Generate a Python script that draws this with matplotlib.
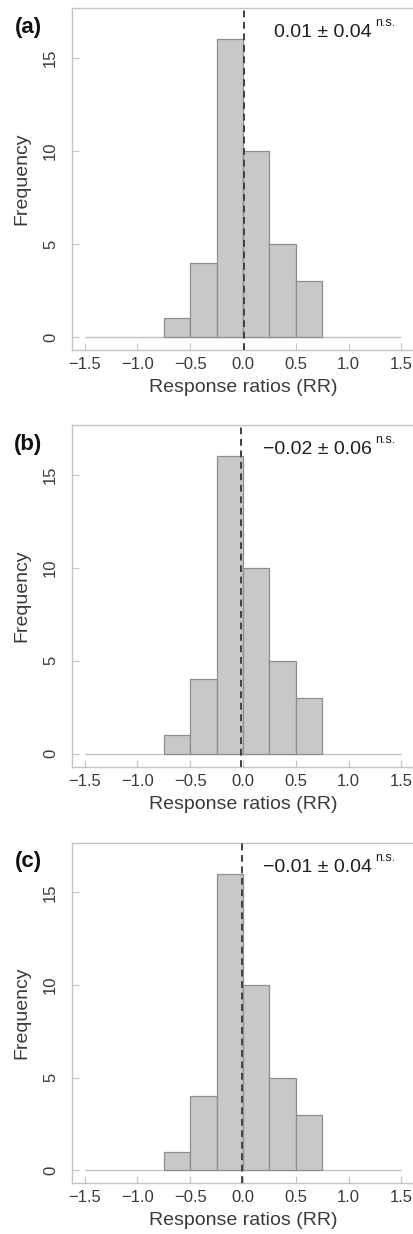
import matplotlib
matplotlib.use('Agg')
from matplotlib import pyplot as plt
import numpy as np

# histogram data (bins of 0.25 from -1.5 to 1.5)
bin_edges = [-1.5, -1.25, -1.0, -0.75, -0.5, -0.25, 0.0, 0.25, 0.5, 0.75, 1.0, 1.25, 1.5]
counts_a = [0, 0, 0, 1, 4, 16, 10, 5, 3, 0, 0, 0]
counts_b = [0, 0, 0, 1, 4, 16, 10, 5, 3, 0, 0, 0]
counts_c = [0, 0, 0, 1, 4, 16, 10, 5, 3, 0, 0, 0]

panel_labels = ["(a)", "(b)", "(c)"]
means = [0.01, -0.02, -0.01]
mean_texts = ["0.01 \u00b1 0.04", "\u22120.02 \u00b1 0.06", "\u22120.01 \u00b1 0.04"]
signif = ["n.s.", "n.s.", "n.s."]

xticks = [-1.5, -1.0, -0.5, 0.0, 0.5, 1.0, 1.5]
xticklabels = ["\u22121.5", "\u22121.0", "\u22120.5", "0.0", "0.5", "1.0", "1.5"]
yticks = [0, 5, 10, 15]

plt.rcParams['font.family'] = ['Liberation Sans', 'DejaVu Sans']

W, H = 414, 1234
fig = plt.figure(figsize=(W / 100, H / 100), dpi=100)

# axes boxes in pixels (left, top, right, bottom)
boxes = [(72, 8, 414, 350), (72, 425, 414, 766.7), (72, 842.7, 414, 1183.3)]

spine_col = "#c4c4c4"
text_col = "#3a3a3a"

for i, counts in enumerate([counts_a, counts_b, counts_c]):
    l, t, r, b = boxes[i]
    ax = fig.add_axes([l / W, 1 - b / H, (r - l) / W, (b - t) / H])

    edges = np.array(bin_edges)
    widths = np.diff(edges)
    # zero line like R hist
    ax.hlines(0, edges[0], edges[-1], color="#c0c0c0", lw=1, zorder=1)
    cnt = np.array(counts)
    nz = cnt > 0
    ax.bar(edges[:-1][nz], cnt[nz], width=widths[nz], align='edge',
           color="#c8c8c8", edgecolor="#8e8e8e", lw=0.9, zorder=2)

    # mean line
    ax.axvline(means[i], color="#404040", lw=1.4, ls=(0, (3.5, 2.4)), zorder=3)

    ax.set_xlim(-1.62, 1.62)
    ax.set_ylim(-0.7, 17.68)
    ax.set_xticks(xticks)
    ax.set_xticklabels(xticklabels)
    ax.set_yticks(yticks)
    ax.set_yticklabels([str(v) for v in yticks], rotation=90, va='center')
    ax.tick_params(direction='in', length=5, width=0.8, color=spine_col,
                   labelcolor=text_col, labelsize=12)
    ax.tick_params(axis='x', pad=5)
    ax.tick_params(axis='y', pad=10)
    for s in ax.spines.values():
        s.set_color(spine_col)
        s.set_linewidth(1)

    ax.set_xlabel("Response ratios (RR)", fontsize=14, color=text_col)
    ax.xaxis.set_label_coords(0.5, -29 / (b - t))
    ax.set_ylabel("Frequency", fontsize=14, color=text_col)
    ax.yaxis.set_label_coords(-42 / (r - l), 0.5)

    # mean +- se with superscript
    ax.text(0.877, 1 - 29 / (b - t), mean_texts[i], transform=ax.transAxes,
            ha='right', va='baseline', fontsize=14, color="#1e1e1e")
    ax.text(0.886, 1 - 18 / (b - t), signif[i], transform=ax.transAxes,
            ha='left', va='baseline', fontsize=9, color="#1e1e1e")

    # panel letter
    fig.text(28 / W, 1 - (t + 19) / H, panel_labels[i], ha='center', va='center',
             fontsize=16, fontweight='bold', color="#111111")

fig.savefig("out.png", dpi=100)
